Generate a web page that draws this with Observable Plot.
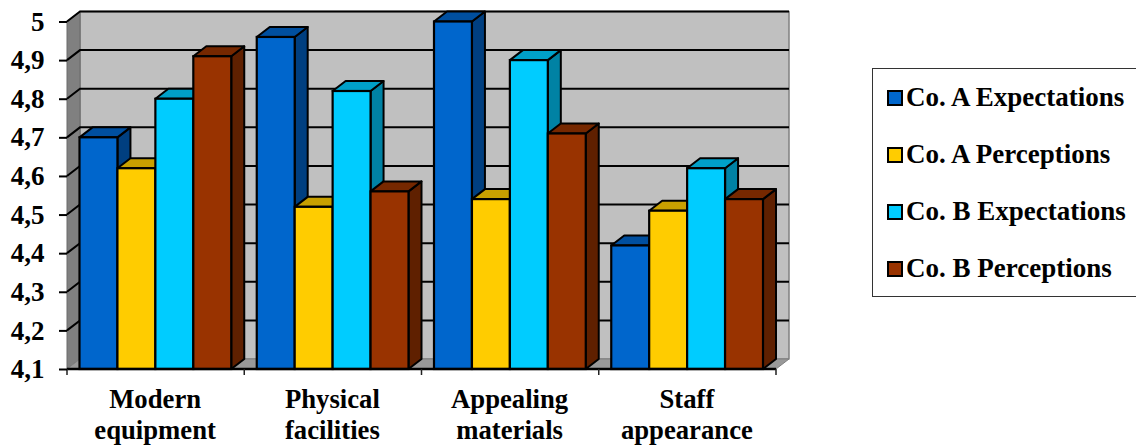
<!DOCTYPE html>
<html>
<head>
<meta charset="utf-8">
<script src="https://cdn.jsdelivr.net/npm/d3@7"></script>
<script src="https://cdn.jsdelivr.net/npm/@observablehq/plot@0.6"></script>
<style>
  html, body { margin: 0; padding: 0; background: #fff; overflow: hidden; }
  #page { position: relative; width: 1136px; height: 446px; font-family: "Liberation Serif", serif; }
  #page svg { display: block; }
  #legend {
    position: absolute; left: 872px; top: 68px; width: 264px; height: 229px;
    box-sizing: border-box; border: 1.5px solid #333; border-right: none; background: #fff;
    font: bold 27px "Liberation Serif", serif; color: #000;
  }
  .row { position: absolute; left: 14px; display: flex; align-items: center; height: 30px; white-space: nowrap; }
  .swatch { width: 16px; height: 16px; box-sizing: border-box; border: 2.5px solid #000; margin-right: 4px; }
  .row span { position: relative; top: -1px; left: -1px; }
</style>
</head>
<body>
<div id="page"></div>
<script>
// Service-quality scores per tangibles item, by company
const categories = ["Modern equipment", "Physical facilities", "Appealing materials", "Staff appearance"];
const series = ["Co. A Expectations", "Co. A Perceptions", "Co. B Expectations", "Co. B Perceptions"];
const coAExpectations = [4.7, 4.96, 5.0, 4.42];
const coAPerceptions = [4.62, 4.52, 4.54, 4.51];
const coBExpectations = [4.8, 4.82, 4.9, 4.62];
const coBPerceptions = [4.91, 4.56, 4.71, 4.54];
const yTicks = [4.1, 4.2, 4.3, 4.4, 4.5, 4.6, 4.7, 4.8, 4.9, 5];

const frontColors = ["#0066cc", "#ffcc00", "#00ccff", "#993300"];
const capColors = ["#004f9f", "#c8a000", "#00a0c8", "#762800"];
const sideColors = ["#003f80", "#a08000", "#0082a4", "#5f2000"];

const rows = [coAExpectations, coAPerceptions, coBExpectations, coBPerceptions].flatMap((values, s) =>
  values.map((value, c) => ({category: categories[c], series: series[s], value}))
);

// Pseudo-3D extrusion, in pixels
const depthX = 13;
const depthY = 10;
const baseline = yTicks[0];

const polygon = (parent, points, fill, stroke, strokeWidth) =>
  parent.append("polygon")
    .attr("points", points.map((p) => p.join(",")).join(" "))
    .attr("fill", fill)
    .attr("stroke", stroke)
    .attr("stroke-width", strokeWidth)
    .attr("stroke-linejoin", "round");

// Back wall, side wall and floor behind the bars
function drawWalls(index, {y}, values, {width, marginLeft, marginRight}) {
  const g = d3.create("svg:g");
  const x0 = marginLeft;
  const x1 = width - marginRight;
  const yTop = y(yTicks[yTicks.length - 1]);
  const yBase = y(baseline);
  polygon(g, [[x0 + depthX, yTop - depthY], [x1 + depthX, yTop - depthY], [x1 + depthX, yBase - depthY], [x0 + depthX, yBase - depthY]], "#c0c0c0", "#808080", 1.5);
  polygon(g, [[x0, yTop], [x0 + depthX, yTop - depthY], [x0 + depthX, yBase - depthY], [x0, yBase]], "#808080", "#6a6a6a", 1);
  polygon(g, [[x0, yBase], [x0 + depthX, yBase - depthY], [x1 + depthX, yBase - depthY], [x1, yBase]], "#999999", "#808080", 1);
  for (const t of yTicks) {
    if (t === baseline) continue;
    g.append("path")
      .attr("d", `M${x0},${y(t)}L${x0 + depthX},${y(t) - depthY}H${x1 + depthX}`)
      .attr("fill", "none")
      .attr("stroke", "#000")
      .attr("stroke-width", 2);
  }
  return g.node();
}

// Side and top faces first, then the front faces from the bar mark itself
function drawPrisms(index, scales, values, dimensions, context, next) {
  const g = d3.create("svg:g");
  const w = scales.x(series[1]) - scales.x(series[0]);
  const yBase = scales.y(baseline);
  for (const i of index) {
    const s = series.indexOf(rows[i].series);
    const left = scales.x(rows[i].series);
    const right = left + w;
    const top = scales.y(rows[i].value);
    polygon(g, [[right, top], [right + depthX, top - depthY], [right + depthX, yBase - depthY], [right, yBase]], sideColors[s], "#000", 2);
    polygon(g, [[left, top], [left + depthX, top - depthY], [right + depthX, top - depthY], [right, top]], capColors[s], "#000", 2);
  }
  g.append(() => next(index, scales, values, dimensions, context));
  return g.node();
}

// Front axis line along the base with a tick at each category boundary
function drawBaseAxis(index, {y, fx}, values, {width, marginLeft, marginRight}) {
  const g = d3.create("svg:g");
  const yBase = y(baseline);
  const bounds = [...categories.map((c) => fx(c)), width - marginRight];
  g.append("path")
    .attr("d", `M${marginLeft},${yBase}H${width - marginRight}`)
    .attr("stroke", "#000")
    .attr("stroke-width", 2.5);
  g.append("path")
    .attr("d", bounds.map((b) => `M${b},${yBase}v6`).join(""))
    .attr("stroke", "#222")
    .attr("stroke-width", 1.5);
  return g.node();
}

const chart = Plot.plot({
  width: 1136,
  height: 446,
  marginTop: 21.5,
  marginBottom: 77,
  marginLeft: 67,
  marginRight: 360,
  style: {fontFamily: "'Liberation Serif', serif", fontWeight: "bold", fontSize: "27px", color: "#000", background: "transparent"},
  fx: {domain: categories, padding: 0, round: false, label: null, axis: null},
  x: {domain: series, padding: 0, round: false, insetLeft: 12.5, insetRight: 13, axis: null},
  y: {domain: [yTicks[0], yTicks[yTicks.length - 1]], label: null, axis: null},
  color: {domain: series, range: frontColors},
  marks: [
    Plot.frame({facet: "super", render: drawWalls}),
    Plot.barY(rows, {
      fx: "category",
      x: "series",
      y1: () => baseline,
      y2: "value",
      fill: "series",
      stroke: "#000",
      strokeWidth: 2.2,
      render: drawPrisms
    }),
    Plot.frame({facet: "super", render: drawBaseAxis}),
    Plot.axisY({
      ticks: yTicks,
      tickSize: 8,
      tickPadding: 15,
      strokeWidth: 2,
      stroke: "#000",
      tickFormat: (d) => String(d).replace(".", ","),
      fontSize: 27,
      fontWeight: "bold"
    }),
    Plot.axisFx({
      anchor: "bottom",
      tickSize: 0,
      tickPadding: 16,
      lineHeight: 1.17,
      fontSize: 26.7,
      fontWeight: "bold",
      dx: -1,
      tickFormat: (d) => d.replace(" ", "\n")
    })
  ]
});
document.getElementById("page").append(chart);

// Legend box to the right of the plot
const legend = d3.select("#page").append("div").attr("id", "legend");
const rowTops = [14, 71, 128, 185];
series.forEach((name, i) => {
  const row = legend.append("div").attr("class", "row").style("top", `${rowTops[i]}px`);
  row.append("div").attr("class", "swatch").style("background", frontColors[i]);
  row.append("span").text(name);
});
</script>
</body>
</html>
